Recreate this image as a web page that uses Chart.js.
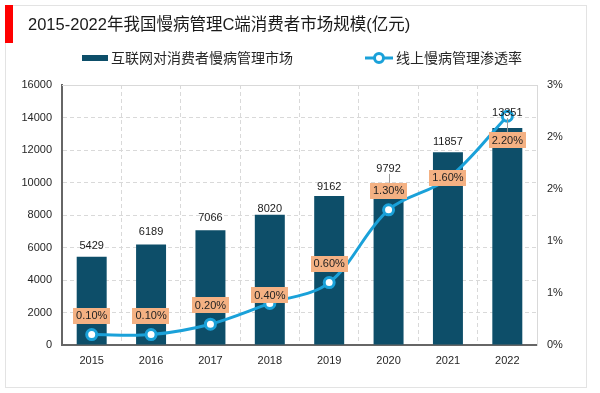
<!DOCTYPE html>
<html>
<head>
<meta charset="utf-8">
<script src="https://cdn.jsdelivr.net/npm/chart.js@4/dist/chart.umd.min.js"></script>
<style>
  html, body { margin: 0; padding: 0; background: #fff; }
  #wrap { width: 600px; height: 393px; }
</style>
</head>
<body>
<div id="wrap"><canvas id="chart" width="600" height="393"></canvas></div>
<script>
const FONT = "'Liberation Sans', 'Noto Sans CJK SC', sans-serif";

// data
const years = ['2015', '2016', '2017', '2018', '2019', '2020', '2021', '2022'];
const marketSize = [5429, 6189, 7066, 8020, 9162, 9792, 11857, 13351];   // 亿元
const penetration = [0.10, 0.10, 0.20, 0.40, 0.60, 1.30, 1.60, 2.20];   // %
const barLabel = '互联网对消费者慢病管理市场';
const lineLabel = '线上慢病管理渗透率';
const title = '2015-2022年我国慢病管理C端消费者市场规模(亿元)';

// label nudges (px) so they sit like the original
const valueNudge = [-11, -12, -12, -6, -9, -17, -10, -15];
const pctNudge = [-19, -19, -19, -8, -19, -19, -1, 24];
const leader = [false, false, false, false, false, true, false, true];

const BAR_COLOR = '#0D4E69';
const LINE_COLOR = '#1AA1D9';
const BOX_COLOR = '#F4B183';
const GRID = '#d9d9d9';

// frame, title, legend
const decor = {
  id: 'decor',
  beforeDraw(chart) {
    const ctx = chart.ctx;
    ctx.save();
    ctx.fillStyle = '#fff';
    ctx.fillRect(0, 0, chart.width, chart.height);
    ctx.strokeStyle = '#e3e3e3';
    ctx.lineWidth = 1;
    ctx.strokeRect(5.5, 5.5, 581, 382);
    ctx.fillStyle = '#ff0000';
    ctx.fillRect(5, 5, 8, 38);
    ctx.restore();
  },
  beforeDatasetsDraw(chart) {
    // light top edge of the plot
    const { ctx, chartArea: a } = chart;
    ctx.save();
    ctx.strokeStyle = GRID;
    ctx.lineWidth = 1;
    ctx.beginPath();
    ctx.moveTo(a.left, a.top + 0.5);
    ctx.lineTo(a.right, a.top + 0.5);
    ctx.stroke();
    ctx.restore();
  },
  afterDraw(chart) {
    const ctx = chart.ctx;
    ctx.save();
    ctx.fillStyle = '#1a1a1a';
    ctx.textBaseline = 'middle';
    ctx.textAlign = 'left';
    ctx.font = '16.5px ' + FONT;
    ctx.fillText(title, 28, 25);

    // legend: bars
    ctx.font = '14px ' + FONT;
    ctx.fillStyle = BAR_COLOR;
    ctx.fillRect(82, 55, 26, 6);
    ctx.fillStyle = '#262626';
    ctx.fillText(chart.data.datasets[0].label, 111, 59);

    // legend: line with marker
    ctx.strokeStyle = LINE_COLOR;
    ctx.lineWidth = 3;
    ctx.beginPath();
    ctx.moveTo(365, 58);
    ctx.lineTo(393, 58);
    ctx.stroke();
    ctx.beginPath();
    ctx.arc(379, 58, 4.5, 0, Math.PI * 2);
    ctx.fillStyle = '#fff';
    ctx.fill();
    ctx.stroke();
    ctx.fillStyle = '#262626';
    ctx.fillText(chart.data.datasets[1].label, 396, 59);
    ctx.restore();
  }
};

// data labels
const labels = {
  id: 'labels',
  afterDatasetsDraw(chart) {
    const ctx = chart.ctx;
    const bars = chart.getDatasetMeta(0).data;
    const pts = chart.getDatasetMeta(1).data;
    ctx.save();
    ctx.font = '11px ' + FONT;
    ctx.textAlign = 'center';
    ctx.textBaseline = 'middle';

    pts.forEach((pt, i) => {
      const txt = penetration[i].toFixed(2) + '%';
      const w = ctx.measureText(txt).width + 6;
      const h = 16;
      const cy = pt.y + pctNudge[i];
      ctx.fillStyle = BOX_COLOR;
      ctx.fillRect(Math.round(pt.x - w / 2), Math.round(cy - h / 2), Math.round(w), h);
      ctx.fillStyle = '#222';
      ctx.fillText(txt, pt.x, cy + 0.5);
    });

    bars.forEach((bar, i) => {
      const cy = bar.y + valueNudge[i];
      if (leader[i]) {
        const boxTop = pts[i].y + pctNudge[i] - 8;
        ctx.strokeStyle = '#999';
        ctx.lineWidth = 1;
        ctx.beginPath();
        ctx.moveTo(Math.round(bar.x) + 0.5, cy + 5);
        ctx.lineTo(Math.round(bar.x) + 0.5, boxTop);
        ctx.stroke();
      }
      ctx.fillStyle = '#1a1a1a';
      ctx.fillText(String(marketSize[i]), bar.x, cy);
    });
    ctx.restore();
  }
};

new Chart(document.getElementById('chart'), {
  data: {
    labels: years,
    datasets: [
      {
        type: 'bar',
        label: barLabel,
        data: marketSize,
        backgroundColor: BAR_COLOR,
        categoryPercentage: 1,
        barPercentage: 0.505,
        yAxisID: 'y',
        order: 1
      },
      {
        type: 'line',
        label: lineLabel,
        data: penetration,
        borderColor: LINE_COLOR,
        borderWidth: 3,
        tension: 0.35,
        pointRadius: 5,
        pointBorderWidth: 3,
        pointBackgroundColor: '#fff',
        pointBorderColor: LINE_COLOR,
        yAxisID: 'y1',
        order: 0
      }
    ]
  },
  options: {
    responsive: false,
    animation: false,
    devicePixelRatio: 1,
    layout: { padding: { top: 85, left: 0, right: 0, bottom: 0 } },
    plugins: {
      legend: { display: false },
      tooltip: { enabled: false }
    },
    scales: {
      x: {
        afterFit: s => { s.height = 48; },
        grid: { display: true, color: GRID, drawTicks: false, offset: true },
        border: { display: true, color: '#666', width: 2, dash: [4, 3] },
        ticks: { color: '#262626', font: { size: 11, family: FONT }, padding: 9 }
      },
      y: {
        position: 'left',
        min: 0,
        max: 16000,
        afterFit: s => { s.width = 62; },
        grid: { color: GRID, drawTicks: false },
        border: { display: true, color: '#666', width: 2, dash: [4, 3] },
        ticks: {
          stepSize: 2000,
          color: '#262626',
          font: { size: 11, family: FONT },
          padding: 10,
          callback: v => String(v)
        }
      },
      y1: {
        position: 'right',
        min: 0,
        max: 2.5,
        afterFit: s => { s.width = 63; },
        grid: { display: false, drawTicks: false },
        border: { display: true, color: GRID, width: 1 },
        ticks: {
          stepSize: 0.5,
          color: '#262626',
          font: { size: 11, family: FONT },
          padding: 10,
          callback: v => Math.round(v) + '%'
        }
      }
    }
  },
  plugins: [decor, labels]
});
</script>
</body>
</html>
